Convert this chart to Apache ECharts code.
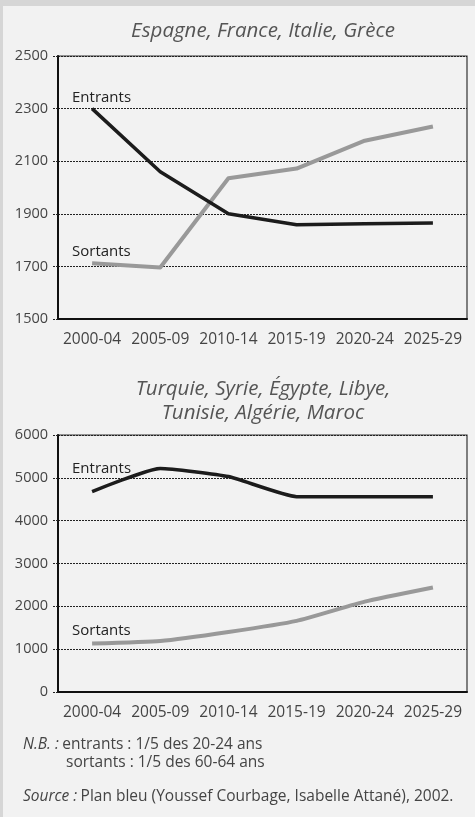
<!DOCTYPE html>
<html>
<head>
<meta charset="utf-8">
<script src="https://cdn.jsdelivr.net/npm/echarts@6/dist/echarts.min.js"></script>
<style>
  html, body { margin: 0; padding: 0; background: #f2f2f2; }
  #chart { width: 475px; height: 817px; }
</style>
</head>
<body>
<div id="chart"></div>
<script>
const periods = ['2000-04', '2005-09', '2010-14', '2015-19', '2020-24', '2025-29']

// Espagne, France, Italie, Grèce
const entrantsNord = [2300, 2060, 1900, 1858, 1862, 1865]
const sortantsNord = [1712, 1696, 2035, 2072, 2178, 2232]

// Turquie, Syrie, Égypte, Libye, Tunisie, Algérie, Maroc
const entrantsSud = [4680, 5220, 5030, 4560, 4560, 4560]
const sortantsSud = [1130, 1190, 1400, 1660, 2110, 2440]

const fontFamily = '"Open Sans", "DejaVu Sans", sans-serif'
const labelColor = '#444'

const chart = echarts.init(document.getElementById('chart'))

const makeX = (gridIndex) => ({
  type: 'category',
  gridIndex: gridIndex,
  data: periods,
  boundaryGap: true,
  axisLine: { lineStyle: { color: '#111', width: 2 } },
  axisTick: { length: 5, lineStyle: { color: '#111', width: 1.5 } },
  axisLabel: { interval: 0, color: labelColor, fontSize: 15.5, fontFamily: fontFamily, margin: 13 }
})

const makeY = (gridIndex, min, max, interval) => ({
  type: 'value',
  gridIndex: gridIndex,
  min: min,
  max: max,
  interval: interval,
  axisLine: { show: true, lineStyle: { color: '#111', width: 2 } },
  axisTick: { show: true, length: 6, lineStyle: { color: '#222', width: 1, type: [2, 1] } },
  axisLabel: { color: labelColor, fontSize: 14.5, fontFamily: fontFamily, margin: 10, formatter: v => String(v) },
  splitLine: { show: true, lineStyle: { color: '#222', width: 1, type: [2, 1] } }
})

const makeLine = (name, data, axisIndex, color, width) => ({
  name: name,
  type: 'line',
  xAxisIndex: axisIndex,
  yAxisIndex: axisIndex,
  data: data,
  symbol: 'none',
  smooth: axisIndex === 1 ? 0.15 : false,
  lineStyle: { color: color, width: width, cap: 'butt', join: 'round' },
  z: color === '#1c1c1c' ? 4 : 3
})

const text = (x, y, str, opts) => ({
  type: 'text',
  x: x,
  y: y,
  style: Object.assign({
    text: str,
    fill: '#222',
    font: '15px ' + fontFamily,
    textVerticalAlign: 'middle'
  }, opts || {})
})

const titleStyle = {
  fill: '#555',
  font: 'italic 20.5px ' + fontFamily,
  textAlign: 'center'
}

const noteRich = {
  i: { fontStyle: 'italic', fontSize: 15.5, fontFamily: fontFamily, fill: '#444' },
  n: { fontSize: 15.5, fontFamily: fontFamily, fill: '#444' }
}

chart.setOption({
  backgroundColor: '#f2f2f2',
  animation: false,
  grid: [
    { left: 58, right: 8, top: 56, height: 263, show: true, borderColor: '#333', borderWidth: 1.2, backgroundColor: 'transparent' },
    { left: 58, right: 8, top: 435, height: 257, show: true, borderColor: '#333', borderWidth: 1.2, backgroundColor: 'transparent' }
  ],
  xAxis: [makeX(0), makeX(1)],
  yAxis: [makeY(0, 1500, 2500, 200), makeY(1, 0, 6000, 1000)],
  series: [
    makeLine('Sortants', sortantsNord, 0, '#999', 4),
    makeLine('Entrants', entrantsNord, 0, '#1c1c1c', 3.5),
    makeLine('Sortants', sortantsSud, 1, '#999', 4),
    makeLine('Entrants', entrantsSud, 1, '#1c1c1c', 3.5)
  ],
  graphic: [
    // cadre
    { type: 'rect', shape: { x: 0, y: 0, width: 475, height: 6 }, style: { fill: '#d6d6d6' } },
    { type: 'rect', shape: { x: 0, y: 0, width: 3, height: 817 }, style: { fill: '#d6d6d6' } },
    // titres
    text(263, 31, 'Espagne, France, Italie, Grèce', titleStyle),
    text(263, 389, 'Turquie, Syrie, Égypte, Libye,', titleStyle),
    text(263, 413, 'Tunisie, Algérie, Maroc', titleStyle),
    // noms des courbes
    text(72, 98, 'Entrants'),
    text(72, 252, 'Sortants'),
    text(72, 469, 'Entrants'),
    text(72, 631, 'Sortants'),
    // notes
    {
      type: 'text', x: 23, y: 745,
      style: { text: '{i|N.B. :} {n|entrants : 1/5 des 20-24 ans}', rich: noteRich, textVerticalAlign: 'middle' }
    },
    text(66, 763, 'sortants : 1/5 des 60-64 ans', { fill: '#444', font: '15.5px ' + fontFamily }),
    {
      type: 'text', x: 23, y: 797,
      style: { text: '{i|Source :} {n|Plan bleu (Youssef Courbage, Isabelle Attané), 2002.}', rich: noteRich, textVerticalAlign: 'middle' }
    }
  ]
})
</script>
</body>
</html>
